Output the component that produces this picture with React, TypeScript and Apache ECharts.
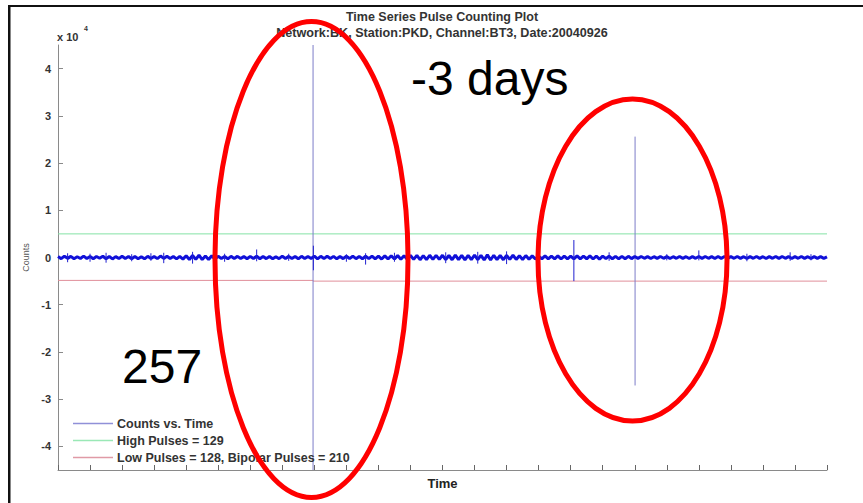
import React, { useEffect, useRef } from 'react';
import * as echarts from 'echarts';

// Sampling step of the counts trace (hours)
const SAMPLE_STEP = 0.1;

// Background counts, one value per 0.1 h (hours 0..24)
const countsNoise: number[] = [
  200, -250, 280, -180, 240, -260, 150, -220, 300, -200,
  230, -280, 200, -170, 260, -250, 210, -300, 180, -230,
  270, -200, 230, -260, 200, -250, 170, -280, 250, -210,
  220, -240, 300, -190, 260, -230, 200, -290, 240, -340,
  380, -420, 430, -400, 480, -450, 330, -410, 390, -360,
  270, -230, 210, -280, 250, -200, 240, -230, 190, -270,
  230, -220, 280, -260, 200, -240, 220, -270, 170, -250,
  280, -200, 240, -230, 200, -280, 250, -220, 230, -200,
  300, -280, 250, -230, 270, -220, 240, -280, 200, -240,
  250, -230, 280, -250, 230, -280, 270, -240, 300, -280,
  300, -330, 350, -320, 370, -330, 400, -360, 380, -350,
  420, -390, 440, -470, 400, -440, 470, -410, 450, -400,
  470, -430, 420, -470, 520, -450, 430, -480, 470, -440,
  480, -470, 450, -520, 560, -530, 470, -430, 420, -470,
  430, -400, 470, -410, 390, -430, 400, -370, 350, -330,
  320, -300, 330, -280, 310, -270, 350, -320, 300, -280,
  290, -310, 330, -300, 280, -270, 350, -320, 300, -330,
  280, -250, 310, -270, 250, -280, 230, -270, 250, -240,
  200, -190, 210, -170, 190, -200, 170, -190, 200, -170,
  190, -200, 170, -170, 200, -190, 170, -200, 180, -170,
  200, -190, 200, -170, 190, -200, 210, -180, 200, -170,
  190, -170, 200, -190, 170, -200, 190, -170, 200, -180,
  170, -200, 190, -170, 210, -190, 200, -170, 190, -200,
  180, -170, 200, -190, 170, -200, 190, -170, 170, -190,
  150,
];

// Short spiky excursions of the trace (hours, max and min counts)
const tickTimes = [0.3, 1.0, 1.5, 2.3, 2.9, 3.3, 4.2, 5.2, 6.2, 7.2, 7.97, 9.0, 9.6, 10.5, 12.1, 13.1, 14.0, 15.0, 16.1, 17.2, 19.0, 20.0, 21.5, 22.85, 23.5];
const tickHigh = [900, 800, 1000, 700, 900, 1000, 1200, 800, 1700, 800, 2500, 700, 900, 1000, 1100, 1200, 1300, 900, 3700, 1100, 700, 1500, 800, 1100, 700];
const tickLow = [-1000, -900, -1100, -800, -700, -1200, -1300, -900, -800, -700, -2700, -900, -1500, -900, -1200, -1300, -1400, -1000, -5000, -700, -600, -600, -800, -700, -600];

// Large pulses
const pulseTimes = [7.96, 18.01];
const pulseHigh = [45000, 25600];
const pulseLow = [-45000, -27100];

// Threshold lines
const highTimes = [0, 24];
const highCounts = [5000, 5000];
const lowTimes = [0, 7.96, 7.96, 24];
const lowCounts = [-4850, -4850, -5000, -5000];

const yTickValues = [-40000, -30000, -20000, -10000, 0, 10000, 20000, 30000, 40000];

const legendNames = ['Counts vs. Time', 'High Pulses = 129', 'Low Pulses = 128, Bipolar Pulses = 210'];

const FONT = "'Liberation Sans', Arial, Helvetica, sans-serif";

export default function App() {
  const ref = useRef<HTMLDivElement>(null);

  useEffect(() => {
    if (!ref.current) return;
    const chart = echarts.init(ref.current, undefined, { renderer: 'svg' });

    const noisePairs: [number, number][] = countsNoise.map((v, i) => [
      Math.round(i * SAMPLE_STEP * 100) / 100,
      v,
    ]);

    const tickData: any[] = [];
    tickTimes.forEach((t, i) => {
      if (i > 0) tickData.push('-');
      tickData.push([t, tickHigh[i]]);
      tickData.push([t, tickLow[i]]);
    });

    const pulseData: any[] = [];
    pulseTimes.forEach((t, i) => {
      if (i > 0) pulseData.push('-');
      pulseData.push([t, pulseHigh[i]]);
      pulseData.push([t, pulseLow[i]]);
    });

    const highData = highTimes.map((t, i) => [t, highCounts[i]]);
    const lowData = lowTimes.map((t, i) => [t, lowCounts[i]]);

    const axisGray = '#8a8a8a';
    const traceBlue = '#1010d8';

    chart.setOption({
      animation: false,
      backgroundColor: '#ffffff',
      grid: { left: 58, right: 36, top: 45, bottom: 33, containLabel: false },
      xAxis: {
        type: 'value',
        min: 0,
        max: 24,
        interval: 1,
        name: 'Time',
        nameLocation: 'middle',
        nameGap: 7,
        nameTextStyle: { fontFamily: FONT, fontSize: 13, fontWeight: 'bold', color: '#222' },
        axisLine: { show: true, onZero: false, lineStyle: { color: axisGray, width: 1 } },
        axisTick: { show: true, inside: true, length: 5, lineStyle: { color: '#666', width: 1 } },
        axisLabel: { show: false },
        splitLine: { show: false },
      },
      yAxis: {
        type: 'value',
        min: -45000,
        max: 45000,
        name: 'Counts',
        nameLocation: 'middle',
        nameGap: 23,
        nameRotate: 90,
        nameTextStyle: { fontFamily: FONT, fontSize: 9, color: '#555' },
        axisLine: { show: true, onZero: false, lineStyle: { color: axisGray, width: 1 } },
        axisTick: {
          show: true,
          inside: true,
          length: 5,
          customValues: yTickValues,
          lineStyle: { color: axisGray, width: 1 },
        },
        axisLabel: {
          show: true,
          customValues: yTickValues,
          margin: 7,
          fontFamily: FONT,
          fontSize: 11,
          fontWeight: 'bold',
          color: '#333',
          formatter: (v: number) => String(v / 10000),
        },
        splitLine: { show: false },
      },
      legend: {
        orient: 'vertical',
        left: 73,
        top: 417,
        icon: 'rect',
        itemWidth: 40,
        itemHeight: 1.5,
        itemGap: 4,
        padding: 0,
        textStyle: { fontFamily: FONT, fontSize: 12.5, fontWeight: 'bold', color: '#333', padding: [0, 0, 0, -1] },
        data: [
          { name: legendNames[0], itemStyle: { color: '#9090d8' } },
          { name: legendNames[1], itemStyle: { color: '#9ae8b6' } },
          { name: legendNames[2], itemStyle: { color: '#e09aa6' } },
        ],
      },
      series: [
        {
          name: legendNames[0],
          type: 'line',
          data: pulseData,
          symbol: 'none',
          showSymbol: false,
          connectNulls: false,
          lineStyle: { color: '#7c7cc8', width: 1 },
          itemStyle: { color: '#9090d8' },
          z: 3,
        },
        {
          name: legendNames[0],
          type: 'line',
          data: noisePairs,
          symbol: 'none',
          showSymbol: false,
          lineStyle: { color: traceBlue, width: 3 },
          itemStyle: { color: traceBlue },
          z: 4,
        },
        {
          name: legendNames[0],
          type: 'line',
          data: tickData,
          symbol: 'none',
          showSymbol: false,
          connectNulls: false,
          lineStyle: { color: '#2020d0', width: 1 },
          itemStyle: { color: '#2020d0' },
          z: 4,
        },
        {
          name: legendNames[1],
          type: 'line',
          data: highData,
          symbol: 'none',
          showSymbol: false,
          lineStyle: { color: '#84e2a6', width: 1 },
          itemStyle: { color: '#9ae8b6' },
          z: 2,
        },
        {
          name: legendNames[2],
          type: 'line',
          data: lowData,
          symbol: 'none',
          showSymbol: false,
          lineStyle: { color: '#e08e9a', width: 1 },
          itemStyle: { color: '#e09aa6' },
          z: 2,
        },
      ],
      graphic: [
        { type: 'rect', shape: { x: 8, y: 5, width: 855, height: 2 }, style: { fill: '#111' }, z: 100 },
        { type: 'rect', shape: { x: 8, y: 5, width: 2.5, height: 498 }, style: { fill: '#111' }, z: 100 },
        {
          type: 'text',
          x: 442,
          y: 17,
          style: {
            text: 'Time Series Pulse Counting Plot',
            font: `bold 12.5px ${FONT}`,
            fill: '#333',
            textAlign: 'center',
            textVerticalAlign: 'middle',
          },
          z: 50,
        },
        {
          type: 'text',
          x: 442,
          y: 33,
          style: {
            text: 'Network:BK, Station:PKD, Channel:BT3, Date:20040926',
            font: `bold 12.6px ${FONT}`,
            fill: '#333',
            textAlign: 'center',
            textVerticalAlign: 'middle',
          },
          z: 50,
        },
        {
          type: 'text',
          x: 57,
          y: 37,
          style: {
            text: 'x 10',
            font: `bold 11px ${FONT}`,
            fill: '#333',
            textAlign: 'left',
            textVerticalAlign: 'middle',
          },
          z: 50,
        },
        {
          type: 'text',
          x: 84,
          y: 28,
          style: {
            text: '4',
            font: `bold 7px ${FONT}`,
            fill: '#333',
            textAlign: 'left',
            textVerticalAlign: 'middle',
          },
          z: 50,
        },
        {
          type: 'ellipse',
          shape: { cx: 311.5, cy: 259.5, rx: 96.5, ry: 238 },
          style: { fill: 'none', stroke: '#ff0000', lineWidth: 5 },
          z: 200,
        },
        {
          type: 'ellipse',
          shape: { cx: 632.5, cy: 260, rx: 94.5, ry: 161 },
          style: { fill: 'none', stroke: '#ff0000', lineWidth: 5 },
          z: 200,
        },
        {
          type: 'text',
          x: 411,
          y: 78,
          style: {
            text: '-3 days',
            font: `48px ${FONT}`,
            fill: '#000',
            textAlign: 'left',
            textVerticalAlign: 'middle',
          },
          z: 210,
        },
        {
          type: 'text',
          x: 122,
          y: 366,
          style: {
            text: '257',
            font: `48px ${FONT}`,
            fill: '#000',
            textAlign: 'left',
            textVerticalAlign: 'middle',
          },
          z: 210,
        },
      ],
    });

    return () => chart.dispose();
  }, []);

  return (
    <div
      ref={ref}
      style={{ position: 'absolute', left: 0, top: 0, width: 863, height: 503, background: '#fff' }}
    />
  );
}
